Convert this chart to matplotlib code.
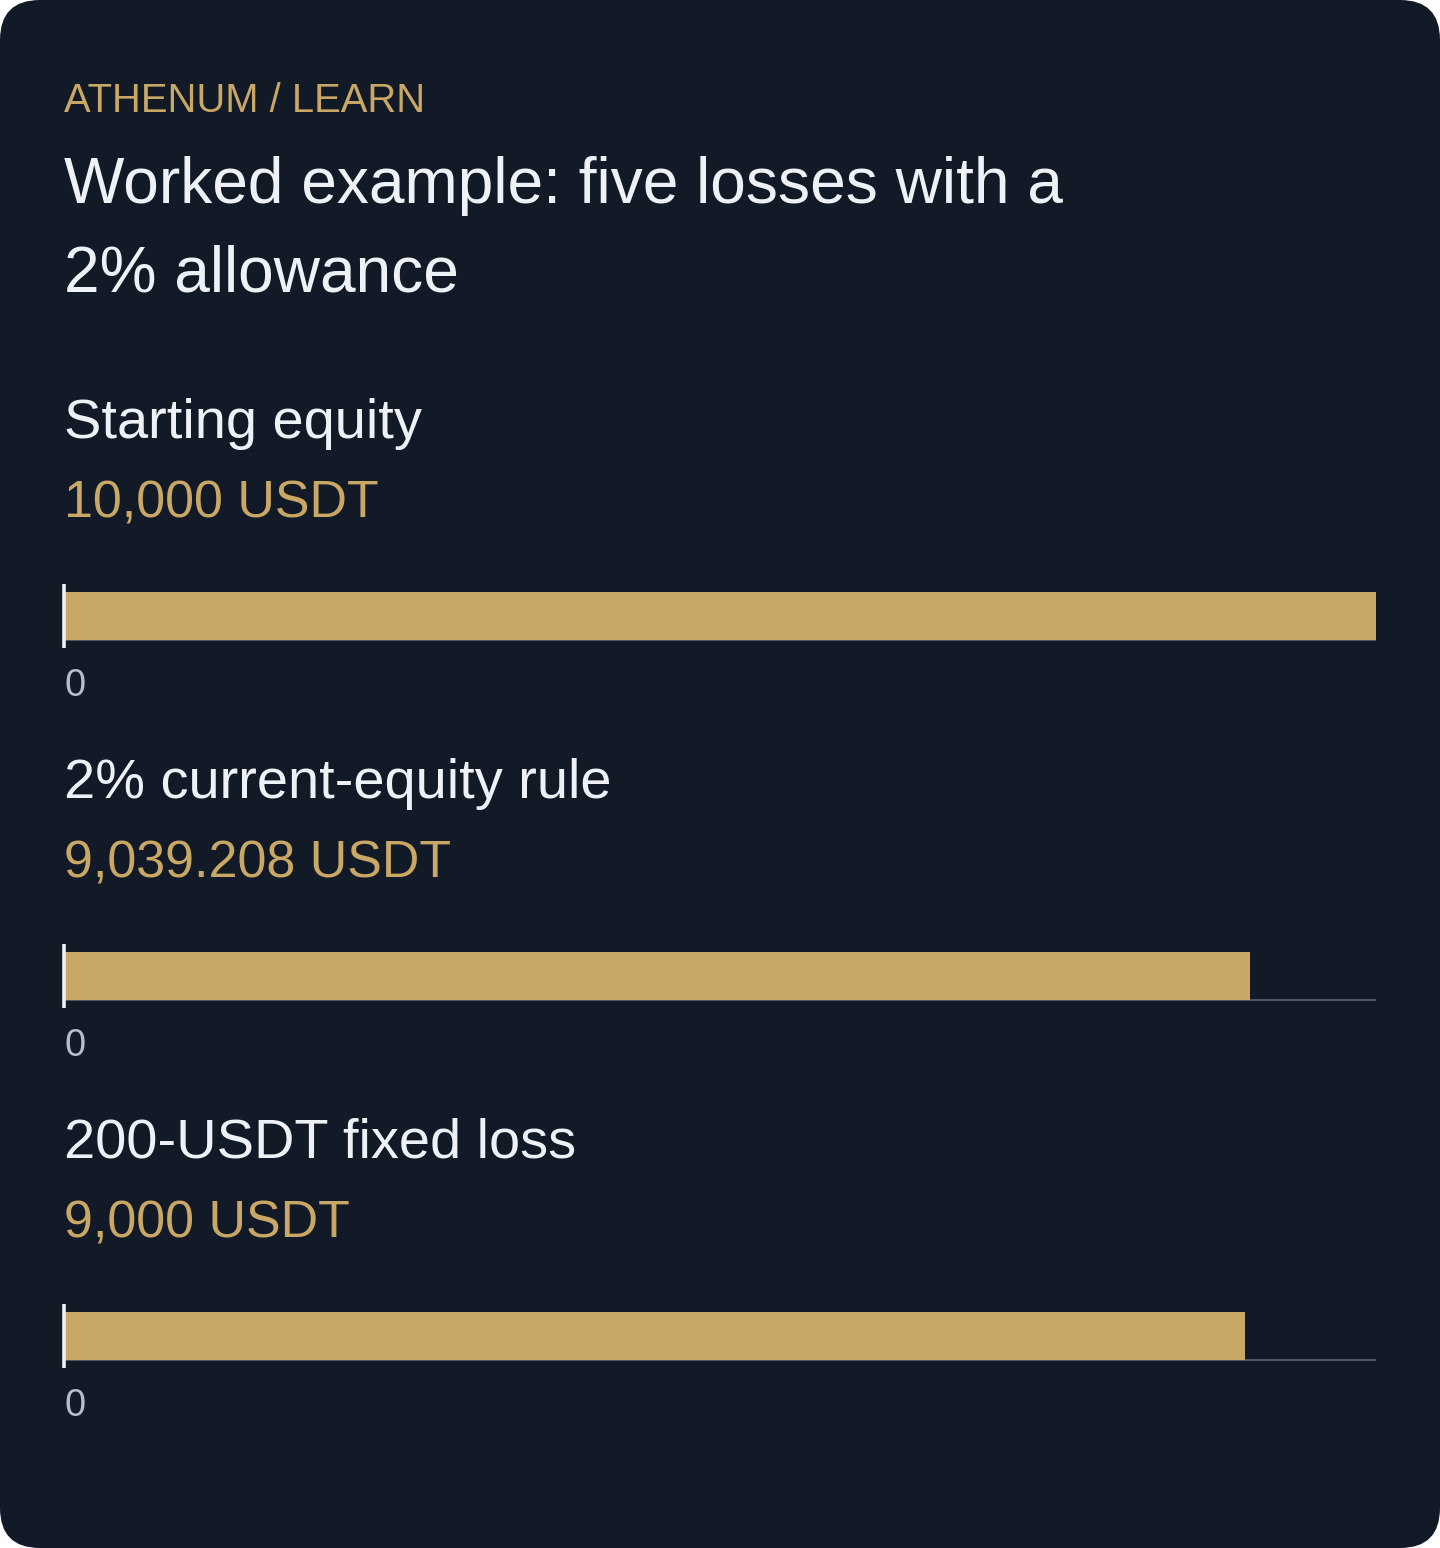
import matplotlib
matplotlib.use("Agg")
import matplotlib.pyplot as plt
from matplotlib.patches import FancyBboxPatch

plt.rcParams['font.family'] = ['Liberation Sans', 'DejaVu Sans']

# ---- data ----
kicker = "ATHENUM / LEARN"
title_lines = ["Worked example: five losses with a", "2% allowance"]
categories = ["Starting equity", "2% current-equity rule", "200-USDT fixed loss"]
values = [10000.0, 9039.208, 9000.0]
value_labels = ["10,000 USDT", "9,039.208 USDT", "9,000 USDT"]
axis_max = 10000.0
tick_label = "0"

# ---- style ----
BG = "#131a27"
GOLD = "#c9a764"
WHITE = "#eef2f7"
MUTED = "#b6bec9"
GRID = "#4b5565"

W, H = 1440, 1548
fig = plt.figure(figsize=(W / 100, H / 100), dpi=100, facecolor="white")

bg = FancyBboxPatch((0, 0), W / 100, H / 100,
                    boxstyle="round,pad=0,rounding_size=0.4",
                    transform=fig.dpi_scale_trans, facecolor=BG,
                    edgecolor="none", zorder=-10)
fig.patches.append(bg)


def fy(py):
    return 1 - py / H


def fx(px):
    return px / W


def pt(px):
    return px * 0.72


LEFT = 64
RIGHT = 1376

fig.text(fx(LEFT), fy(112), kicker, color=GOLD, fontsize=pt(40), va="baseline", ha="left")
fig.text(fx(LEFT), fy(203), title_lines[0], color=WHITE, fontsize=pt(64), va="baseline", ha="left")
fig.text(fx(LEFT), fy(292), title_lines[1], color=WHITE, fontsize=pt(64), va="baseline", ha="left")

step = 360
for i, (cat, val, vlab) in enumerate(zip(categories, values, value_labels)):
    off = i * step
    fig.text(fx(LEFT), fy(438 + off), cat, color=WHITE, fontsize=pt(56), va="baseline", ha="left")
    fig.text(fx(LEFT), fy(517 + off), vlab, color=GOLD, fontsize=pt(52), va="baseline", ha="left")

    top_px, bot_px = 584 + off, 648 + off
    ax = fig.add_axes([fx(LEFT), fy(bot_px), fx(RIGHT - LEFT), (bot_px - top_px) / H])
    ax.set_zorder(1)
    ax.set_xlim(0, axis_max)
    ax.set_ylim(0, 64)
    ax.axis("off")
    ax.patch.set_alpha(0)
    ax.plot([0, axis_max], [8, 8], color=GRID, lw=1.5, solid_capstyle="butt", zorder=1)
    ax.barh([32], [val], height=48, left=0, color=GOLD, zorder=2)
    ax.plot([0, 0], [0, 64], color=WHITE, lw=2.6, solid_capstyle="butt", zorder=3,
            clip_on=False)

    fig.text(fx(LEFT), fy(696 + off), tick_label, color=MUTED, fontsize=pt(38),
             va="baseline", ha="left")

fig.savefig("out.png", dpi=100, facecolor="white")
